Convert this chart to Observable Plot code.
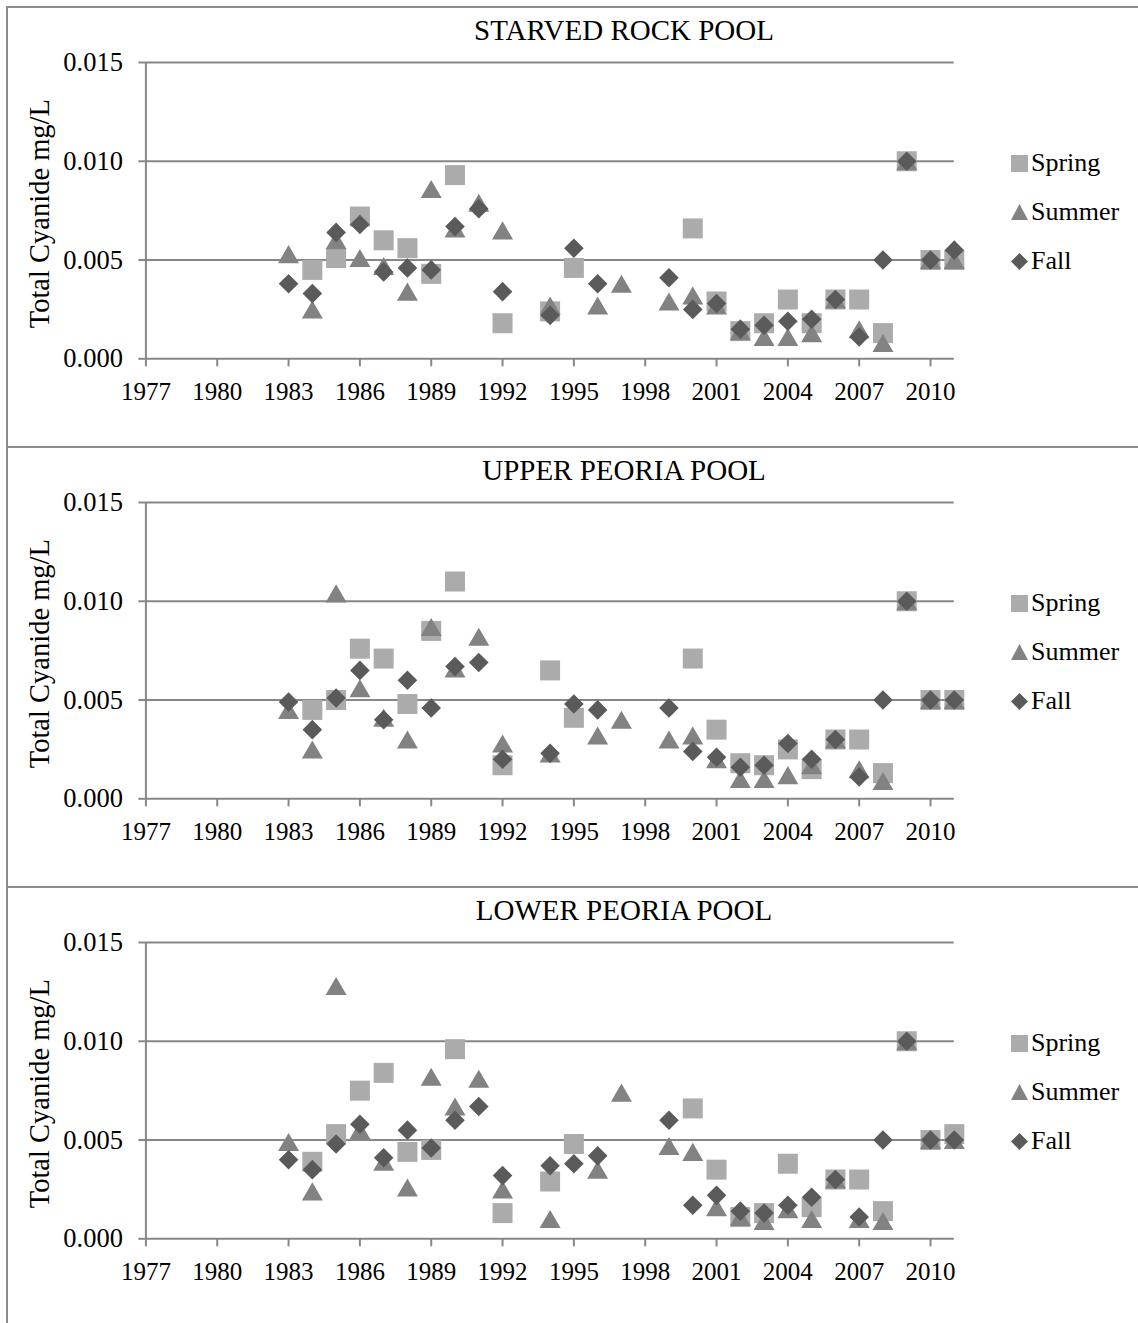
<!DOCTYPE html>
<html>
<head>
<meta charset="utf-8">
<script src="https://cdn.jsdelivr.net/npm/d3@7"></script>
<script src="https://cdn.jsdelivr.net/npm/@observablehq/plot@0.6"></script>
<style>
  body { margin: 0; background: #fff; }
  #root { position: relative; width: 1138px; height: 1323px; overflow: hidden; background: #fff; font-family: "Liberation Serif", "Times New Roman", serif; }
  .frame { position: absolute; left: 6px; width: 1300px; height: 440px; border-top: 2px solid #8c8c8c; border-left: 2px solid #8c8c8c; box-sizing: border-box; }
  .panel { position: absolute; left: 0; width: 1138px; height: 440px; }
  .panel svg { position: absolute; left: 0; top: 0; }
  .title { position: absolute; left: 0; width: 1248px; top: 13px; line-height: 34px; text-align: center; font-size: 29px; color: #000; }
  .legend { position: absolute; left: 1011px; top: 140px; font-size: 26px; color: #000; }
  .legend .row { position: absolute; left: 0; height: 30px; line-height: 30px; white-space: nowrap; }
  .legend svg { position: static; vertical-align: middle; margin-right: 3px; margin-top: -4px; }
</style>
</head>
<body>
<div id="root"></div>
<script>
// ---------- data ----------
const years = [1983, 1984, 1985, 1986, 1987, 1988, 1989, 1990, 1991, 1992, 1993, 1994, 1995, 1996, 1997,
               1998, 1999, 2000, 2001, 2002, 2003, 2004, 2005, 2006, 2007, 2008, 2009, 2010, 2011];
const xTickYears = [1977, 1980, 1983, 1986, 1989, 1992, 1995, 1998, 2001, 2004, 2007, 2010];
const yTicks = [0, 0.005, 0.010, 0.015];
const panelTitles = ["STARVED ROCK POOL", "UPPER PEORIA POOL", "LOWER PEORIA POOL"];
const seasons = ["Spring", "Summer", "Fall"];
const yAxisTitle = "Total Cyanide mg/L";

const starvedSpring = [null, .0045, .0051, .0072, .0060, .0056, .0043, .0093, null, .0018, null, .0024, .0046, null, null,
                       null, null, .0066, .0029, .0014, .0018, .0030, .0018, .0030, .0030, .0013, .010, .005, .005];
const starvedSummer = [.0053, .0025, .0060, .0051, .0047, .0034, .0086, .0066, .0079, .0065, null, .0027, null, .0027, .0038,
                       null, .0029, .0032, .0027, .0014, .0011, .0011, .0013, .0030, .0015, .0008, .010, .005, .005];
const starvedFall   = [.0038, .0033, .0064, .0068, .0044, .0046, .0045, .0067, .0076, .0034, null, .0022, .0056, .0038, null,
                       null, .0041, .0025, .0028, .0015, .0017, .0019, .0020, .0030, .0011, .0050, .010, .005, .0055];

const upperSpring = [null, .0045, .0050, .0076, .0071, .0048, .0085, .0110, null, .0017, null, .0065, .0041, null, null,
                     null, null, .0071, .0035, .0018, .0017, .0025, .0015, .0030, .0030, .0013, .010, .005, .005];
const upperSummer = [.0045, .0025, .0104, .0056, .0041, .0030, .0087, .0066, .0082, .0028, null, .0023, null, .0032, .0040,
                     null, .0030, .0032, .0020, .0010, .0010, .0012, .0017, .0030, .0015, .0009, .010, .005, .005];
const upperFall   = [.0049, .0035, .0051, .0065, .0040, .0060, .0046, .0067, .0069, .0020, null, .0023, .0048, .0045, null,
                     null, .0046, .0024, .0021, .0016, .0017, .0028, .0020, .0030, .0011, .0050, .010, .005, .005];

const lowerSpring = [null, .0039, .0053, .0075, .0084, .0044, .0045, .0096, null, .0013, null, .0029, .0048, null, null,
                     null, null, .0066, .0035, .0011, .0013, .0038, .0016, .0030, .0030, .0014, .010, .005, .0053];
const lowerSummer = [.0049, .0024, .0128, .0055, .0039, .0026, .0082, .0067, .0081, .0025, null, .0010, null, .0035, .0074,
                     null, .0047, .0044, .0016, .0011, .0009, .0015, .0010, .0030, .0010, .0009, .010, .005, .005];
const lowerFall   = [.0040, .0035, .0048, .0058, .0041, .0055, .0046, .0060, .0067, .0032, null, .0037, .0038, .0042, null,
                     null, .0060, .0017, .0022, .0014, .0013, .0017, .0021, .0030, .0011, .0050, .010, .005, .005];

const panelSeries = [
  [starvedSpring, starvedSummer, starvedFall],
  [upperSpring, upperSummer, upperFall],
  [lowerSpring, lowerSummer, lowerFall]
];

// ---------- styles ----------
const seasonColors = ["#ababab", "#828282", "#5a5a5a"];
const gridColor = "#878787";

// custom symbols (size = r*r*PI in Plot)
const squareSym = { draw(ctx, size) { const r = Math.sqrt(size / Math.PI); ctx.moveTo(-r, -r); ctx.lineTo(r, -r); ctx.lineTo(r, r); ctx.lineTo(-r, r); ctx.closePath(); } };
const triangleSym = { draw(ctx, size) { const r = Math.sqrt(size / Math.PI); const h = r * 0.86; ctx.moveTo(0, -h); ctx.lineTo(r, h); ctx.lineTo(-r, h); ctx.closePath(); } };
const diamondSym = { draw(ctx, size) { const r = Math.sqrt(size / Math.PI); ctx.moveTo(0, -r); ctx.lineTo(r, 0); ctx.lineTo(0, r); ctx.lineTo(-r, 0); ctx.closePath(); } };
const seasonSymbols = [squareSym, triangleSym, diamondSym];
const seasonR = [10, 10.5, 9.8];

const root = document.getElementById("root");

panelTitles.forEach((title, p) => {
  const frame = document.createElement("div");
  frame.className = "frame";
  frame.style.top = (6 + p * 440) + "px";
  root.appendChild(frame);

  const panel = document.createElement("div");
  panel.className = "panel";
  panel.style.top = (p * 440) + "px";
  root.appendChild(panel);

  const seriesRows = panelSeries[p].map((arr) =>
    years.map((yr, i) => ({ year: yr, value: arr[i] })).filter(d => d.value != null)
  );

  const chart = Plot.plot({
    width: 1138,
    height: 440,
    marginLeft: 145.4,
    marginRight: 184.2,
    marginTop: 62,
    marginBottom: 81.7,
    x: { domain: [1977, 2011] },
    y: { domain: [0, 0.015] },
    style: { fontFamily: "'Liberation Serif', 'Times New Roman', serif", fontSize: "25px", background: "transparent", overflow: "visible", color: "#000" },
    marks: [
      Plot.ruleY(yTicks.filter(v => v > 0), { stroke: gridColor, strokeWidth: 2 }),
      Plot.ruleY([0], { stroke: gridColor, strokeWidth: 2 }),
      Plot.ruleX([1977], { y1: 0, y2: 0.015, stroke: gridColor, strokeWidth: 2 }),
      Plot.axisY({ ticks: yTicks, tickFormat: d3.format(".3f"), tickSize: 7, tickPadding: 16, fontSize: 26.5, stroke: gridColor, strokeWidth: 2, fill: "#000", label: null }),
      Plot.axisX({ ticks: xTickYears, tickFormat: d => String(d), tickSize: 8, tickPadding: 15, fontSize: 25, stroke: gridColor, strokeWidth: 2, fill: "#000", label: null }),
      ...seriesRows.map((rows, s) =>
        Plot.dot(rows, { x: "year", y: "value", symbol: seasonSymbols[s], r: seasonR[s], fill: seasonColors[s], stroke: "none" })
      ),
      Plot.text([yAxisTitle], { text: d => d, frameAnchor: "left", dx: -106, dy: 3, rotate: -90, fontSize: 28.5, textAnchor: "middle", lineAnchor: "middle", fill: "#000" })
    ]
  });
  panel.appendChild(chart);

  const t = document.createElement("div");
  t.className = "title";
  t.textContent = title;
  panel.appendChild(t);

  const legend = document.createElement("div");
  legend.className = "legend";
  const shapes = [
    '<rect x="0" y="0" width="17" height="17"/>',
    '<polygon points="8.5,0 17,16 0,16"/>',
    '<polygon points="8.5,0 17,8.5 8.5,17 0,8.5"/>'
  ];
  seasons.forEach((name, s) => {
    const row = document.createElement("div");
    row.className = "row";
    row.style.top = (s * 49 + 8) + "px";
    row.innerHTML = `<svg width="17" height="17" viewBox="0 0 17 17"><g fill="${seasonColors[s]}">${shapes[s]}</g></svg>`;
    row.appendChild(document.createTextNode(name));
    legend.appendChild(row);
  });
  panel.appendChild(legend);
});
</script>
</body>
</html>
